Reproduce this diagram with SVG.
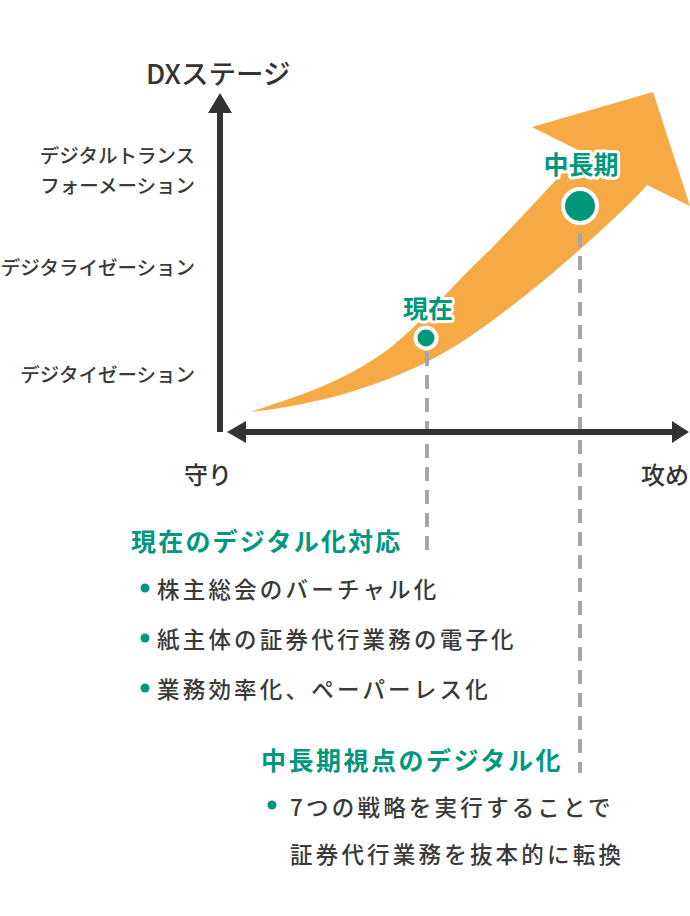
<svg xmlns="http://www.w3.org/2000/svg" width="690" height="916" viewBox="0 0 690 916">
<style>
  text { font-family: "Noto Sans CJK JP", "Noto Sans", sans-serif; font-weight: 500; }
  .ax { fill: #333333; }
  .ylab { font-size: 19.5px; fill: #3a3a3a; text-anchor: end; }
  .end { font-size: 24px; fill: #333333; }
  .mark { font-size: 25px; font-weight: bold; fill: #00977c; text-anchor: middle; stroke: #ffffff; stroke-width: 6; stroke-linejoin: round; paint-order: stroke; }
  .head { font-size: 25px; font-weight: bold; fill: #00977c; letter-spacing: 2.2px; }
  .item { font-size: 22.5px; fill: #3a3a3a; letter-spacing: 3.2px; }
  .dot { fill: #00977c; }
  .dash { stroke: #a6a6a6; stroke-width: 4; stroke-dasharray: 14 9; fill: none; }
</style>

<g id="trend-arrow">
  <path fill="#f5aa45" d="M250,412 C297,396.5 343,383 390,348 C425,320 455,282 490,250 C520,219 552,184 582,152 L532,127 L653,92 L690,206 L647,185 C622,214 530,297.5 460,343 C400,382 320,405 250,412 Z"/>
</g>

<g id="connectors">
  <line class="dash" x1="427" y1="352" x2="427" y2="556"/>
  <line class="dash" x1="580" y1="233" x2="580" y2="773"/>
</g>

<g id="axes">
  <rect class="ax" x="217" y="110" width="6" height="322"/>
  <polygon class="ax" points="220,93 232,113 208,113"/>
  <rect class="ax" x="244" y="429" width="430" height="6"/>
  <polygon class="ax" points="227,432 246,421 246,443"/>
  <polygon class="ax" points="689,432 672,421 672,443"/>
  <text x="146" y="84" style="font-size:27.5px;fill:#333333;">DXステージ</text>
  <text class="end" x="184" y="484">守り</text>
  <text class="end" x="689" y="484" text-anchor="end">攻め</text>
</g>

<g id="y-labels">
  <text class="ylab" x="195" y="163">デジタルトランス</text>
  <text class="ylab" x="195" y="193">フォーメーション</text>
  <text class="ylab" x="195" y="275">デジタライゼーション</text>
  <text class="ylab" x="195" y="382">デジタイゼーション</text>
</g>

<g id="node-current">
  <circle class="dot" cx="426" cy="338" r="10.5" stroke="#ffffff" stroke-width="4"/>
  <text class="mark" x="428" y="318">現在</text>
</g>

<g id="node-midlong">
  <circle class="dot" cx="580" cy="206" r="17" stroke="#ffffff" stroke-width="4"/>
  <text class="mark" x="581" y="174">中長期</text>
</g>

<g id="current-list">
  <text class="head" x="131" y="551">現在のデジタル化対応</text>
  <circle class="dot" cx="145" cy="588" r="4.5"/>
  <text class="item" x="157" y="598">株主総会のバーチャル化</text>
  <circle class="dot" cx="145" cy="638" r="4.5"/>
  <text class="item" x="157" y="648">紙主体の証券代行業務の電子化</text>
  <circle class="dot" cx="145" cy="688" r="4.5"/>
  <text class="item" x="157" y="698">業務効率化、ペーパーレス化</text>
</g>

<g id="midlong-list">
  <text class="head" x="261" y="770" style="letter-spacing:2.5px;">中長期視点のデジタル化</text>
  <circle class="dot" cx="272" cy="805" r="4.5"/>
  <text class="item" x="290" y="816">7つの戦略を実行することで</text>
  <text class="item" x="290" y="863">証券代行業務を抜本的に転換</text>
</g>
</svg>
